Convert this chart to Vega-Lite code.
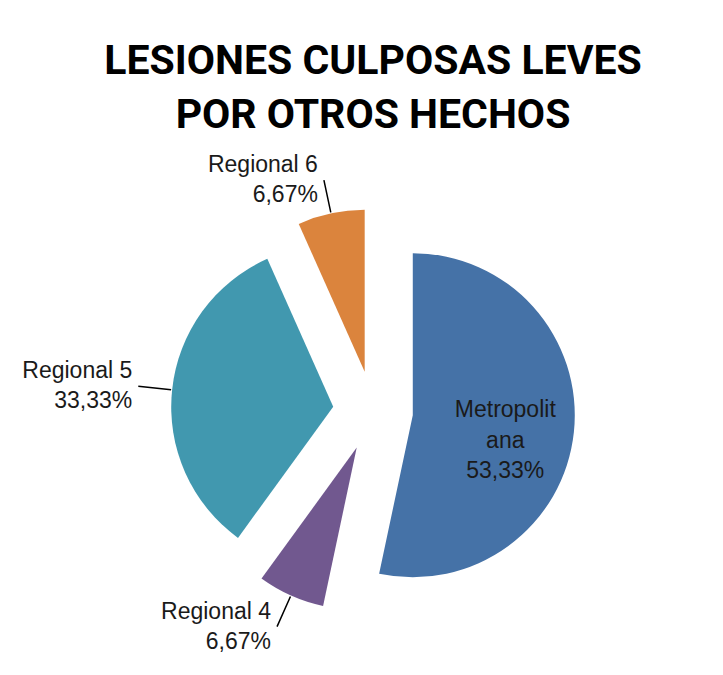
{
  "$schema": "https://vega.github.io/schema/vega-lite/v6.json",
  "width": 722,
  "height": 812,
  "autosize": {"type": "none"},
  "padding": {"left": 12, "top": 5, "right": -11, "bottom": -142},
  "background": "#ffffff",
  "config": {
    "view": {"stroke": "#8c8c8c", "strokeWidth": 2},
    "locale": {"number": {"decimal": ",", "thousands": ".", "grouping": [3], "currency": ["", " €"]}},
    "text": {"font": "Liberation Sans", "fontSize": 23, "color": "#1a1a1a"}
  },
  "title": {
    "text": ["LESIONES CULPOSAS LEVES", "POR OTROS HECHOS"],
    "font": "Roboto",
    "fontSize": 41,
    "fontWeight": "bold",
    "color": "#000000",
    "lineHeight": 54,
    "anchor": "middle",
    "offset": -132
  },
  "data": {
    "values": [
      {"region": "Metropolitana", "label": "Metropolit\nana", "share": 0.5333},
      {"region": "Regional 4", "label": "Regional 4", "share": 0.0667},
      {"region": "Regional 5", "label": "Regional 5", "share": 0.3333},
      {"region": "Regional 6", "label": "Regional 6", "share": 0.0667}
    ]
  },
  "transform": [
    {"stack": "share", "groupby": [], "sort": [{"field": "region", "order": "ascending"}], "as": ["s0", "s1"]}
  ],
  "layer": [
    {
      "mark": {
        "type": "arc",
        "radius": 162,
        "xOffset": {"expr": "40*sin(PI*(datum.s0+datum.s1))"},
        "yOffset": {"expr": "-40*cos(PI*(datum.s0+datum.s1))"}
      },
      "encoding": {
        "theta": {"field": "s0", "type": "quantitative", "stack": null, "scale": {"domain": [0, 1]}},
        "theta2": {"field": "s1"},
        "color": {
          "field": "region",
          "type": "nominal",
          "scale": {
            "domain": ["Metropolitana", "Regional 4", "Regional 5", "Regional 6"],
            "range": ["#4572A7", "#71588F", "#4198AF", "#DB843D"]
          },
          "legend": null
        }
      }
    },
    {
      "transform": [{"filter": "datum.share < 0.5"}],
      "mark": {
        "type": "arc",
        "radius": 236,
        "radius2": 203,
        "filled": false,
        "stroke": "#000000",
        "strokeWidth": 1.5,
        "thetaOffset": {"expr": "PI*(datum.s1-datum.s0)"},
        "theta2Offset": {"expr": "-PI*(datum.s1-datum.s0)"}
      },
      "encoding": {
        "theta": {"field": "s0", "type": "quantitative", "stack": null},
        "theta2": {"field": "s1"}
      }
    },
    {
      "mark": {
        "type": "text",
        "lineBreak": "\n",
        "lineHeight": 31,
        "baseline": "bottom",
        "dy": -3,
        "radius": {"expr": "datum.share > 0.5 ? 133 : 236"},
        "align": {"expr": "datum.share > 0.5 ? 'center' : (sin(PI*(datum.s0+datum.s1)) < 0 ? 'right' : 'left')"},
        "dx": {"expr": "datum.share > 0.5 ? 0 : (sin(PI*(datum.s0+datum.s1)) < 0 ? -6 : 6)"}
      },
      "encoding": {
        "theta": {"field": "share", "type": "quantitative", "stack": true},
        "order": {"field": "region", "sort": "ascending"},
        "text": {"field": "label", "type": "nominal"}
      }
    },
    {
      "mark": {
        "type": "text",
        "baseline": "top",
        "dy": {"expr": "indexof(datum.label, '\\n') >= 0 ? 35 : 4"},
        "radius": {"expr": "datum.share > 0.5 ? 133 : 236"},
        "align": {"expr": "datum.share > 0.5 ? 'center' : (sin(PI*(datum.s0+datum.s1)) < 0 ? 'right' : 'left')"},
        "dx": {"expr": "datum.share > 0.5 ? 0 : (sin(PI*(datum.s0+datum.s1)) < 0 ? -6 : 6)"}
      },
      "encoding": {
        "theta": {"field": "share", "type": "quantitative", "stack": true},
        "order": {"field": "region", "sort": "ascending"},
        "text": {"field": "share", "type": "quantitative", "format": ".2%"}
      }
    }
  ]
}
